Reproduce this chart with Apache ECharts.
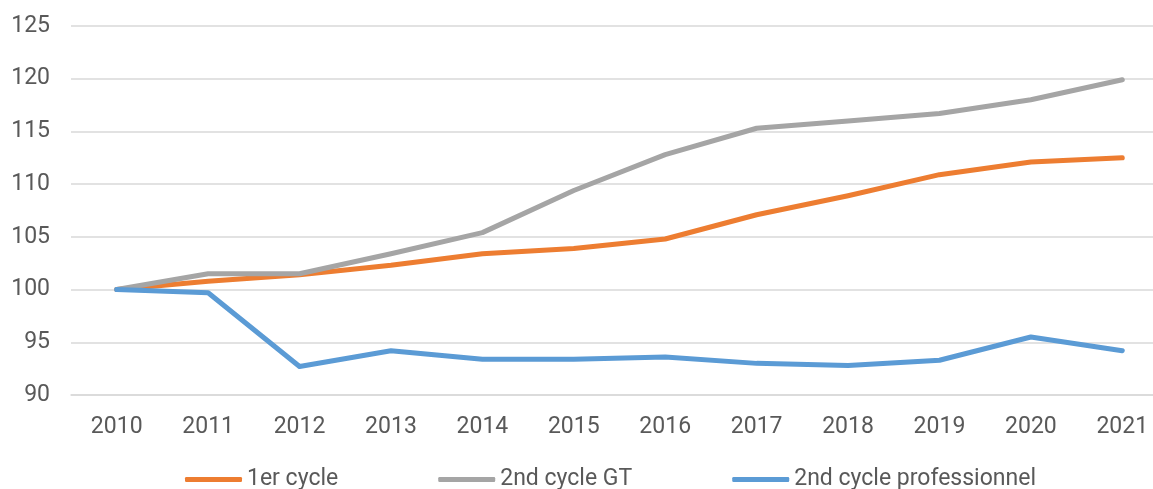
<!DOCTYPE html>
<html><head><meta charset="utf-8">
<script src="https://cdn.jsdelivr.net/npm/echarts@6/dist/echarts.min.js"></script>
<style>html,body{margin:0;padding:0;background:#fff;overflow:hidden}#c{width:1170px;height:489px}</style>
</head><body><div id="c"></div>
<script>
const years = ['2010','2011','2012','2013','2014','2015','2016','2017','2018','2019','2020','2021'];
const premierCycle = [100, 100.8, 101.4, 102.3, 103.4, 103.9, 104.8, 107.1, 108.9, 110.9, 112.1, 112.5];
const secondCycleGT = [100, 101.5, 101.5, 103.4, 105.4, 109.4, 112.8, 115.3, 116.0, 116.7, 118.0, 119.9];
const secondCyclePro = [100, 99.7, 92.7, 94.2, 93.4, 93.4, 93.6, 93.0, 92.8, 93.3, 95.5, 94.2];
const seriesNames = ['1er cycle', '2nd cycle GT', '2nd cycle professionnel'];
const yTicks = {min: 90, max: 125, interval: 5};

const chart = echarts.init(document.getElementById('c'));
const colors = ['#ED7D31', '#A5A5A5', '#5B9BD5'];
const dataSets = [premierCycle, secondCycleGT, secondCyclePro];
chart.setOption({
  animation: false,
  color: colors,
  textStyle: {fontFamily: 'Roboto'},
  grid: {left: 71, top: 26, right: 2, bottom: 94, containLabel: false},
  xAxis: {
    type: 'category', data: years, boundaryGap: true,
    axisLine: {show: true, lineStyle: {color: '#D9D9D9', width: 1.5}},
    axisTick: {show: false},
    axisLabel: {color: '#595959', fontSize: 23, margin: 21, fontFamily: 'Roboto'}
  },
  yAxis: {
    type: 'value', min: yTicks.min, max: yTicks.max, interval: yTicks.interval,
    axisLine: {show: false}, axisTick: {show: false},
    splitLine: {lineStyle: {color: '#D9D9D9', width: 1.5}},
    axisLabel: {color: '#595959', fontSize: 23, margin: 21, fontFamily: 'Roboto'}
  },
  legend: {
    left: 180, top: 463, itemGap: 100, itemWidth: 57, itemHeight: 5,
    icon: 'roundRect',
    textStyle: {color: '#595959', fontSize: 23, fontFamily: 'Roboto'},
    data: seriesNames
  },
  series: dataSets.map((d, i) => ({
    name: seriesNames[i], type: 'line', data: d,
    symbol: 'none', lineStyle: {width: 5, cap: 'round', join: 'round'}
  }))
});
</script></body></html>
